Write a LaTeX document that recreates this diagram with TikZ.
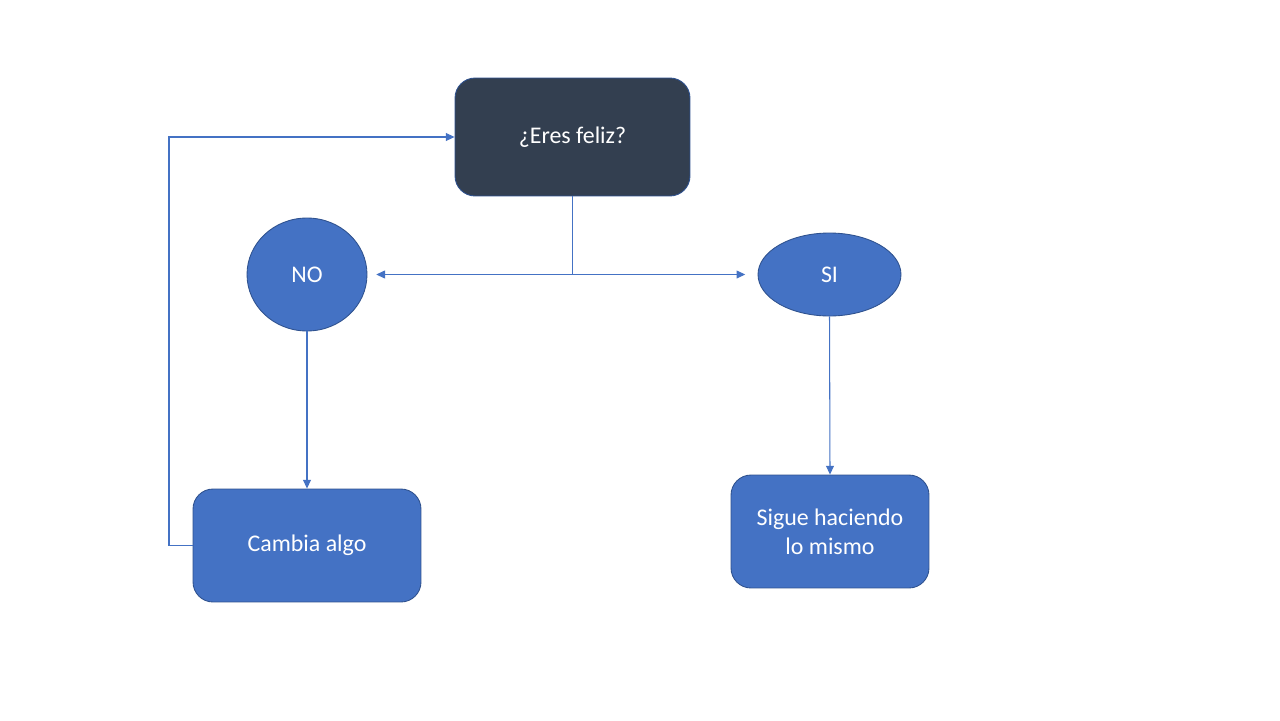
\documentclass[tikz,border=0pt]{standalone}
\usepackage{fontspec}
\setmainfont{Carlito}
\usetikzlibrary{arrows.meta,shapes.geometric}
\definecolor{darkbox}{HTML}{333F50}
\definecolor{bluebox}{HTML}{4472C4}
\definecolor{blueline}{HTML}{2F528F}
\tikzset{
  txt/.style={text=white,font=\fontsize{13.6}{16.4}\selectfont,align=center,inner sep=0pt},
  roundbox/.style={txt,rectangle,rounded corners=0.4cm,fill=bluebox,draw=blueline,line width=0.5pt},
  bubble/.style={txt,ellipse,fill=bluebox,draw=blueline,line width=0.5pt},
  conn/.style={draw=bluebox,line width=0.6pt,-{Triangle[length=5pt,width=4.5pt]}},
}
\begin{document}
\begin{tikzpicture}[x=0.02cm,y=-0.02cm]
  \useasboundingbox[fill=white] (0,0) rectangle (1280,720);
  % question
  \node[roundbox,fill=darkbox,minimum width=4.7cm,minimum height=2.36cm] (q) at (572.5,137) {¿Eres feliz?};
  % answers
  \node[bubble,minimum width=2.4cm,minimum height=2.26cm] (no) at (307,274.5) {NO};
  \node[bubble,minimum width=2.86cm,minimum height=1.66cm] (si) at (829.5,274.5) {SI};
  % actions
  \node[roundbox,minimum width=4.56cm,minimum height=2.26cm] (cambia) at (307,545.5) {Cambia algo};
  \node[roundbox,minimum width=3.96cm,minimum height=2.26cm] (sigue) at (830,531.5) {Sigue haciendo\\lo mismo};

  % split point and loop corners
  \coordinate (split) at (q.south |- no.east);
  \coordinate (loopb) at (169,545.5);
  \coordinate (loopt) at (169,137);

  \draw[conn,-] (q.south) -- (split);
  \draw[conn,shorten >=5pt] (split) -- (no.east);
  \draw[conn,shorten >=7pt] (split) -- (si.west);
  \draw[conn] (no.south) -- (cambia.north);
  \draw[conn] (si.south) -- (sigue.north);
  \draw[conn] (cambia.west) -- (loopb) -- (loopt) -- (q.west);
\end{tikzpicture}
\end{document}
